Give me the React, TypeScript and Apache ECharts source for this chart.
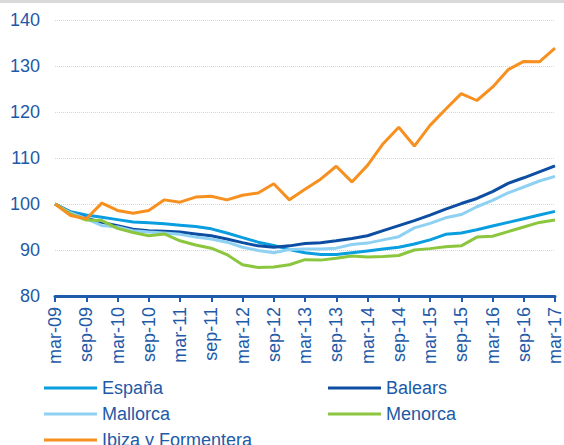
import React, { useEffect, useRef } from "react";
import * as echarts from "echarts";

const quarters: string[] = [];
const monthNames = ["mar", "jun", "sep", "dic"];
for (let y = 9; y <= 17; y++) {
  for (let q = 0; q < 4; q++) {
    if (y === 17 && q > 0) break;
    quarters.push(`${monthNames[q]}-${String(y).padStart(2, "0")}`);
  }
}

const espana = [100, 98.3, 97.6, 97.1, 96.6, 96.1, 95.9, 95.7, 95.4, 95.1, 94.6, 93.7, 92.7, 91.7, 91.0, 90.1, 89.4, 89.0, 89.0, 89.4, 89.8, 90.2, 90.6, 91.3, 92.2, 93.4, 93.7, 94.4, 95.2, 96.0, 96.8, 97.6, 98.4];
const balears = [100, 98.2, 96.9, 96.0, 95.3, 94.5, 94.2, 94.1, 93.9, 93.5, 93.1, 92.4, 91.6, 90.9, 90.6, 90.9, 91.4, 91.6, 92.0, 92.5, 93.1, 94.2, 95.3, 96.4, 97.6, 98.9, 100.1, 101.2, 102.7, 104.5, 105.7, 107.0, 108.3];
const mallorca = [100, 98.1, 96.8, 95.3, 95.0, 94.2, 93.9, 93.7, 93.4, 92.8, 92.4, 91.7, 90.6, 89.9, 89.4, 90.1, 90.2, 90.2, 90.4, 91.2, 91.5, 92.2, 92.9, 94.8, 95.8, 97.0, 97.7, 99.4, 100.8, 102.4, 103.7, 105.0, 106.0];
const menorca = [100, 97.8, 96.5, 96.4, 94.7, 93.8, 93.1, 93.5, 92.0, 91.1, 90.4, 89.0, 86.8, 86.2, 86.3, 86.8, 87.9, 87.8, 88.2, 88.7, 88.5, 88.6, 88.8, 90.0, 90.3, 90.7, 90.9, 92.8, 93.0, 94.0, 95.0, 96.0, 96.5];
const ibiza = [100, 97.5, 96.8, 100.2, 98.6, 98.0, 98.6, 100.9, 100.4, 101.5, 101.7, 100.9, 101.9, 102.4, 104.4, 100.9, 103.2, 105.4, 108.2, 104.8, 108.4, 113.1, 116.7, 112.6, 117.1, 120.6, 124.0, 122.5, 125.4, 129.2, 131.0, 130.9, 133.9];

const seriesNames = ["España", "Balears", "Mallorca", "Menorca", "Ibiza y Formentera"];
const seriesColors = ["#0a9ee0", "#0d4ea3", "#8fd1f2", "#8cc63f", "#f7901e"];
const seriesData = [espana, balears, mallorca, menorca, ibiza];
const legendPos = [
  [44, 379],
  [328, 379],
  [44, 405],
  [328, 405],
  [44, 431],
];

const TEXT = "#1d5aa8";
const FONT = "Liberation Sans, Arial, sans-serif";

export default function App() {
  const ref = useRef<HTMLDivElement>(null);
  useEffect(() => {
    document.body.style.margin = "0";
    if (!ref.current) return;
    const chart = echarts.init(ref.current, null, { renderer: "svg" });
    const legendText = { color: TEXT, fontSize: 18, fontFamily: FONT, lineHeight: 18 };
    chart.setOption({
      animation: false,
      backgroundColor: "#ffffff",
      textStyle: { fontFamily: FONT },
      graphic: [
        { type: "rect", shape: { x: 0, y: 0, width: 564, height: 3 }, style: { fill: "#d9d9d9" } },
      ],
      grid: { left: 55, right: 8, top: 20, bottom: 149, containLabel: false },
      legend: seriesNames.map((name, i) => ({
        data: [name],
        orient: "horizontal",
        left: legendPos[i][0],
        top: legendPos[i][1],
        icon: "rect",
        itemWidth: 53,
        itemHeight: 3,
        padding: 0,
        textStyle: legendText,
      })),
      xAxis: {
        type: "category",
        data: quarters,
        boundaryGap: false,
        axisLine: { lineStyle: { color: "#1f5aab", width: 3 } },
        axisTick: { show: true, interval: 1, length: 6, lineStyle: { color: "#1f5aab", width: 2 } },
        axisLabel: { interval: 1, rotate: 90, margin: 11, color: TEXT, fontSize: 18, fontFamily: FONT },
        splitLine: { show: false },
      },
      yAxis: {
        type: "value",
        min: 80,
        max: 140,
        interval: 10,
        axisLine: { show: false },
        axisTick: { show: false },
        axisLabel: { color: TEXT, fontSize: 18, fontFamily: FONT, margin: 15 },
        splitLine: { lineStyle: { color: "#b8e1f4", type: "dotted", width: 1 } },
      },
      series: seriesNames.map((name, i) => ({
        name,
        type: "line",
        data: seriesData[i],
        symbol: "none",
        color: seriesColors[i],
        lineStyle: { width: 3, color: seriesColors[i] },
      })),
    });
    return () => chart.dispose();
  }, []);
  return <div ref={ref} style={{ width: 564, height: 445 }} />;
}
